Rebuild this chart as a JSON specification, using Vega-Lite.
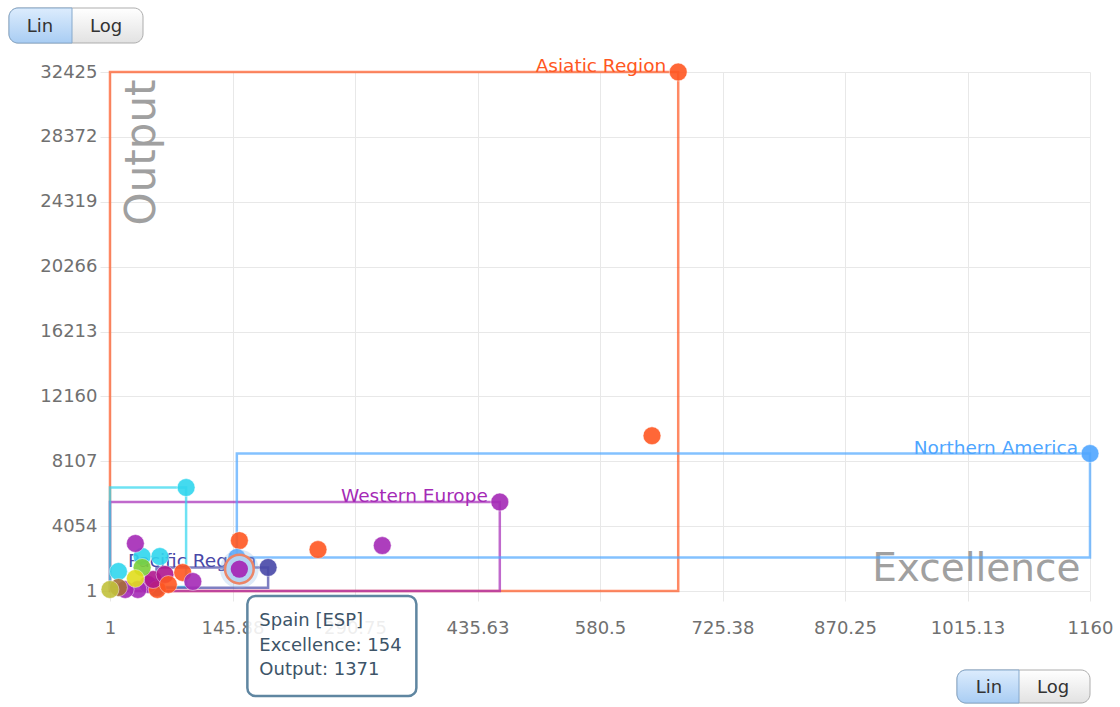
{
  "$schema": "https://vega.github.io/schema/vega-lite/v6.json",
  "width": 980,
  "height": 519,
  "autosize": {"type": "none"},
  "padding": {"left": 110, "top": 72, "right": 30, "bottom": 116},
  "background": "white",
  "config": {"view": {"stroke": null}, "font": "DejaVu Sans"},
  "datasets": {
    "regions": [
      {"region": "Asiatic Region", "exMin": 1, "exMax": 673, "outMin": 1, "outMax": 32425},
      {"region": "Western Europe", "exMin": 1, "exMax": 462, "outMin": 1, "outMax": 5560},
      {"region": "Latin America", "exMin": 1, "exMax": 91, "outMin": 250, "outMax": 6465},
      {"region": "Pacific Region", "exMin": 56, "exMax": 188, "outMin": 200, "outMax": 1470},
      {"region": "Northern America", "exMin": 151, "exMax": 1160, "outMin": 2090, "outMax": 8590}
    ],
    "countries": [
      {"country": "China", "region": "Asiatic Region", "excellence": 673, "output": 32425},
      {"country": "Japan", "region": "Asiatic Region", "excellence": 642, "output": 9700},
      {"country": "United States", "region": "Northern America", "excellence": 1160, "output": 8590},
      {"country": "United Kingdom", "region": "Western Europe", "excellence": 462, "output": 5560},
      {"country": "Germany", "region": "Western Europe", "excellence": 323, "output": 2840},
      {"country": "India", "region": "Asiatic Region", "excellence": 247, "output": 2590},
      {"country": "South Korea", "region": "Asiatic Region", "excellence": 154, "output": 3150},
      {"country": "Canada", "region": "Northern America", "excellence": 151, "output": 2090},
      {"country": "Brazil", "region": "Latin America", "excellence": 91, "output": 6465},
      {"country": "Australia", "region": "Pacific Region", "excellence": 188, "output": 1470},
      {"country": "Spain", "code": "ESP", "region": "Western Europe", "excellence": 154, "output": 1371},
      {"country": "New Zealand", "region": "Pacific Region", "excellence": 56, "output": 200},
      {"country": "Belgium", "region": "Western Europe", "excellence": 46, "output": 407},
      {"country": "Ireland", "region": "Western Europe", "excellence": 34, "output": 95},
      {"country": "Luxembourg", "region": "Western Europe", "excellence": 19, "output": 95},
      {"country": "Malaysia", "region": "Asiatic Region", "excellence": 57, "output": 95},
      {"country": "Czech Republic", "region": "Eastern Europe", "excellence": 52, "output": 719},
      {"country": "Poland", "region": "Eastern Europe", "excellence": 66, "output": 1032},
      {"country": "Singapore", "region": "Asiatic Region", "excellence": 70, "output": 407},
      {"country": "Taiwan", "region": "Asiatic Region", "excellence": 87, "output": 1157},
      {"country": "Netherlands", "region": "Western Europe", "excellence": 99, "output": 594},
      {"country": "Chile", "region": "Latin America", "excellence": 11, "output": 1220},
      {"country": "Mexico", "region": "Latin America", "excellence": 39, "output": 2155},
      {"country": "Argentina", "region": "Latin America", "excellence": 60, "output": 2155},
      {"country": "Iran", "region": "Middle East", "excellence": 39, "output": 1470},
      {"country": "Italy", "region": "Western Europe", "excellence": 31, "output": 2970},
      {"country": "Kazakhstan", "region": "Central Asia", "excellence": 11, "output": 220},
      {"country": "South Africa", "region": "Africa", "excellence": 31, "output": 782},
      {"country": "Egypt", "region": "Northern Africa", "excellence": 1, "output": 95}
    ]
  },
  "layer": [
    {
      "data": {"name": "regions"},
      "mark": {"type": "rect", "fillOpacity": 0, "strokeWidth": 2.5, "strokeOpacity": 0.7},
      "encoding": {
        "x": {
          "field": "exMin", "type": "quantitative",
          "scale": {"domain": [1, 1160], "nice": false, "zero": false},
          "axis": {
            "values": [1, 145.88, 290.75, 435.63, 580.5, 725.38, 870.25, 1015.13, 1160],
            "format": ".2~f",
            "grid": true, "gridColor": "#e8e8e8", "gridWidth": 1,
            "domain": false, "ticks": true, "tickColor": "#e8e8e8", "tickSize": 10,
            "labelFont": "DejaVu Sans", "labelFontSize": 18, "labelColor": "#707070",
            "labelPadding": 18, "labelFlush": false, "labelOverlap": false, "labelBound": false,
            "title": "Excellence", "titleFont": "DejaVu Sans", "titleFontSize": 39,
            "titleFontWeight": "normal", "titleColor": "#a0a0a0",
            "titleAngle": 0, "titleAlign": "right", "titleBaseline": "alphabetic",
            "titleX": 970, "titleY": -11
          }
        },
        "x2": {"field": "exMax"},
        "y": {
          "field": "outMin", "type": "quantitative",
          "scale": {"domain": [1, 32425], "nice": false, "zero": false},
          "axis": {
            "values": [1, 4054, 8107, 12160, 16213, 20266, 24319, 28372, 32425],
            "format": "d",
            "grid": true, "gridColor": "#e8e8e8", "gridWidth": 1,
            "domain": false, "ticks": true, "tickColor": "#e8e8e8", "tickSize": 10,
            "labelFont": "DejaVu Sans", "labelFontSize": 18, "labelColor": "#707070",
            "labelPadding": 3, "labelFlush": false, "labelOverlap": false, "labelBound": false,
            "title": "Output", "titleFont": "DejaVu Sans", "titleFontSize": 42,
            "titleFontWeight": "normal", "titleColor": "#a0a0a0",
            "titleAngle": -90, "titleAlign": "right", "titleBaseline": "alphabetic",
            "titleX": 44, "titleY": 7
          }
        },
        "y2": {"field": "outMax"},
        "stroke": {
          "field": "region", "type": "nominal", "legend": null,
          "scale": {
            "domain": ["Asiatic Region", "Northern America", "Western Europe", "Pacific Region", "Latin America", "Eastern Europe", "Middle East", "Africa", "Northern Africa", "Central Asia"],
            "range": ["#ff5722", "#4fa6ff", "#a52ab6", "#4848a8", "#30d6ee", "#b0178f", "#7ccf3a", "#e2dd1e", "#c2c13b", "#a66e3a"]
          }
        }
      }
    },
    {
      "data": {"name": "regions"},
      "transform": [{"filter": "datum.region != 'Latin America'"}],
      "mark": {"type": "text", "align": "right", "baseline": "alphabetic", "dx": -12, "dy": 0, "font": "DejaVu Sans", "fontSize": 18.5},
      "encoding": {
        "x": {"field": "exMax", "type": "quantitative"},
        "y": {"field": "outMax", "type": "quantitative"},
        "text": {"field": "region", "type": "nominal"},
        "color": {
          "field": "region", "type": "nominal", "legend": null,
          "scale": {
            "domain": ["Asiatic Region", "Northern America", "Western Europe", "Pacific Region", "Latin America", "Eastern Europe", "Middle East", "Africa", "Northern Africa", "Central Asia"],
            "range": ["#ff5722", "#4fa6ff", "#a52ab6", "#4848a8", "#30d6ee", "#b0178f", "#7ccf3a", "#e2dd1e", "#c2c13b", "#a66e3a"]
          }
        }
      }
    },
    {
      "data": {"name": "countries"},
      "mark": {"type": "circle", "size": 320, "opacity": 0.9, "stroke": "white", "strokeWidth": 1, "strokeOpacity": 0.5},
      "encoding": {
        "x": {"field": "excellence", "type": "quantitative"},
        "y": {"field": "output", "type": "quantitative"},
        "color": {
          "field": "region", "type": "nominal", "legend": null,
          "scale": {
            "domain": ["Asiatic Region", "Northern America", "Western Europe", "Pacific Region", "Latin America", "Eastern Europe", "Middle East", "Africa", "Northern Africa", "Central Asia"],
            "range": ["#ff5722", "#4fa6ff", "#a52ab6", "#4848a8", "#30d6ee", "#b0178f", "#7ccf3a", "#e2dd1e", "#c2c13b", "#a66e3a"]
          }
        }
      }
    },
    {
      "data": {"name": "countries"},
      "transform": [{"filter": "datum.country == 'Spain'"}],
      "mark": {"type": "circle", "size": 1500, "color": "#8fbbe8", "opacity": 0.3},
      "encoding": {
        "x": {"field": "excellence", "type": "quantitative"},
        "y": {"field": "output", "type": "quantitative"}
      }
    },
    {
      "data": {"name": "countries"},
      "transform": [{"filter": "datum.country == 'Spain'"}],
      "mark": {"type": "circle", "size": 820, "fill": "#b5d3f1", "fillOpacity": 1, "stroke": "#ec8567", "strokeWidth": 2.5},
      "encoding": {
        "x": {"field": "excellence", "type": "quantitative"},
        "y": {"field": "output", "type": "quantitative"}
      }
    },
    {
      "data": {"name": "countries"},
      "transform": [{"filter": "datum.country == 'Spain'"}],
      "mark": {"type": "circle", "size": 300, "opacity": 0.95},
      "encoding": {
        "x": {"field": "excellence", "type": "quantitative"},
        "y": {"field": "output", "type": "quantitative"},
        "color": {
          "field": "region", "type": "nominal", "legend": null,
          "scale": {
            "domain": ["Asiatic Region", "Northern America", "Western Europe", "Pacific Region", "Latin America", "Eastern Europe", "Middle East", "Africa", "Northern Africa", "Central Asia"],
            "range": ["#ff5722", "#4fa6ff", "#a52ab6", "#4848a8", "#30d6ee", "#b0178f", "#7ccf3a", "#e2dd1e", "#c2c13b", "#a66e3a"]
          }
        }
      }
    },
    {
      "data": {"name": "countries"},
      "transform": [{"filter": "datum.country == 'Spain'"}],
      "mark": {"type": "rect", "fill": "white", "fillOpacity": 0.88, "stroke": "#5f86a1", "strokeWidth": 2.5, "cornerRadius": 8, "xOffset": 8, "x2Offset": 177, "yOffset": 27, "y2Offset": 127},
      "encoding": {
        "x": {"field": "excellence", "type": "quantitative"},
        "x2": {"field": "excellence"},
        "y": {"field": "output", "type": "quantitative"},
        "y2": {"field": "output"}
      }
    },
    {
      "data": {"name": "countries"},
      "transform": [
        {"filter": "datum.country == 'Spain'"},
        {"calculate": "datum.country + ' [' + datum.code + ']\\nExcellence: ' + datum.excellence + '\\nOutput: ' + datum.output", "as": "tip"}
      ],
      "mark": {"type": "text", "align": "left", "baseline": "alphabetic", "dx": 20, "dy": 57, "font": "DejaVu Sans", "fontSize": 18, "lineHeight": 24.5, "lineBreak": "\n", "color": "#3d5468"},
      "encoding": {
        "x": {"field": "excellence", "type": "quantitative"},
        "y": {"field": "output", "type": "quantitative"},
        "text": {"field": "tip", "type": "nominal"}
      }
    },
    {
      "data": {"values": [{"control": "scale"}]},
      "mark": {"type": "rect", "fill": {"gradient": "linear", "x1": 0, "y1": 0, "x2": 0, "y2": 1, "stops": [{"offset": 0, "color": "#ffffff"}, {"offset": 1, "color": "#e2e2e2"}]}, "stroke": "#adadad", "strokeWidth": 1, "cornerRadius": 9, "xOffset": -101, "x2Offset": 33, "yOffset": -64, "y2Offset": -29},
      "encoding": {
        "x": {"datum": 1, "type": "quantitative"}, "x2": {"datum": 1},
        "y": {"datum": 32425, "type": "quantitative"}, "y2": {"datum": 32425}
      }
    },
    {
      "data": {"values": [{"control": "scale"}]},
      "mark": {"type": "rect", "fill": {"gradient": "linear", "x1": 0, "y1": 0, "x2": 0, "y2": 1, "stops": [{"offset": 0, "color": "#dcecfd"}, {"offset": 1, "color": "#a9cdf3"}]}, "stroke": "#86a9cc", "strokeWidth": 1, "cornerRadiusTopLeft": 9, "cornerRadiusBottomLeft": 9, "xOffset": -101, "x2Offset": -38, "yOffset": -64, "y2Offset": -29},
      "encoding": {
        "x": {"datum": 1, "type": "quantitative"}, "x2": {"datum": 1},
        "y": {"datum": 32425, "type": "quantitative"}, "y2": {"datum": 32425}
      }
    },
    {
      "data": {"values": [{"control": "scale"}]},
      "mark": {"type": "text", "text": "Lin", "align": "center", "baseline": "alphabetic", "dx": -70, "dy": -40, "font": "DejaVu Sans", "fontSize": 18, "color": "#333333"},
      "encoding": {"x": {"datum": 1, "type": "quantitative"}, "y": {"datum": 32425, "type": "quantitative"}}
    },
    {
      "data": {"values": [{"control": "scale"}]},
      "mark": {"type": "text", "text": "Log", "align": "center", "baseline": "alphabetic", "dx": -4, "dy": -40, "font": "DejaVu Sans", "fontSize": 18, "color": "#333333"},
      "encoding": {"x": {"datum": 1, "type": "quantitative"}, "y": {"datum": 32425, "type": "quantitative"}}
    },
    {
      "data": {"values": [{"control": "scale"}]},
      "mark": {"type": "rect", "fill": {"gradient": "linear", "x1": 0, "y1": 0, "x2": 0, "y2": 1, "stops": [{"offset": 0, "color": "#ffffff"}, {"offset": 1, "color": "#e2e2e2"}]}, "stroke": "#adadad", "strokeWidth": 1, "cornerRadius": 9, "xOffset": -133, "x2Offset": 0, "yOffset": 79, "y2Offset": 112},
      "encoding": {
        "x": {"datum": 1160, "type": "quantitative"}, "x2": {"datum": 1160},
        "y": {"datum": 1, "type": "quantitative"}, "y2": {"datum": 1}
      }
    },
    {
      "data": {"values": [{"control": "scale"}]},
      "mark": {"type": "rect", "fill": {"gradient": "linear", "x1": 0, "y1": 0, "x2": 0, "y2": 1, "stops": [{"offset": 0, "color": "#dcecfd"}, {"offset": 1, "color": "#a9cdf3"}]}, "stroke": "#86a9cc", "strokeWidth": 1, "cornerRadiusTopLeft": 9, "cornerRadiusBottomLeft": 9, "xOffset": -133, "x2Offset": -71, "yOffset": 79, "y2Offset": 112},
      "encoding": {
        "x": {"datum": 1160, "type": "quantitative"}, "x2": {"datum": 1160},
        "y": {"datum": 1, "type": "quantitative"}, "y2": {"datum": 1}
      }
    },
    {
      "data": {"values": [{"control": "scale"}]},
      "mark": {"type": "text", "text": "Lin", "align": "center", "baseline": "alphabetic", "dx": -101, "dy": 102, "font": "DejaVu Sans", "fontSize": 18, "color": "#333333"},
      "encoding": {"x": {"datum": 1160, "type": "quantitative"}, "y": {"datum": 1, "type": "quantitative"}}
    },
    {
      "data": {"values": [{"control": "scale"}]},
      "mark": {"type": "text", "text": "Log", "align": "center", "baseline": "alphabetic", "dx": -37, "dy": 102, "font": "DejaVu Sans", "fontSize": 18, "color": "#333333"},
      "encoding": {"x": {"datum": 1160, "type": "quantitative"}, "y": {"datum": 1, "type": "quantitative"}}
    }
  ]
}
